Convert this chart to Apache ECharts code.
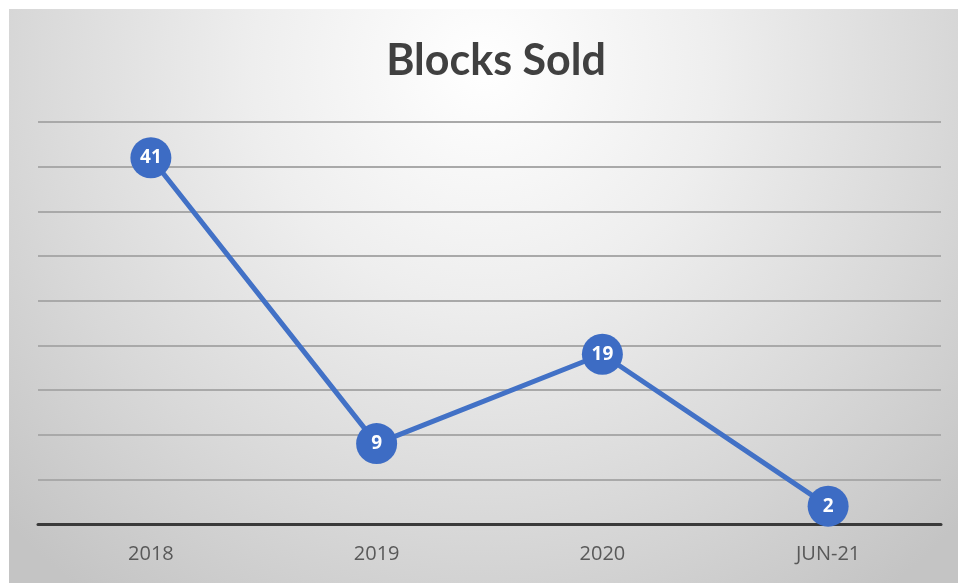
<!DOCTYPE html>
<html>
<head>
<meta charset="utf-8">
<script src="https://cdn.jsdelivr.net/npm/echarts@6/dist/echarts.min.js"></script>
<style>
html,body{margin:0;padding:0;background:#fff;}
#chart{width:958px;height:583px;}
</style>
</head>
<body>
<div id="chart"></div>
<script>
// Yearly block sales
const categories = ['2018', '2019', '2020', 'JUN-21'];
const blocksSold = [41, 9, 19, 2];
const yTicks = { min: 0, max: 45, interval: 5 };

const chart = echarts.init(document.getElementById('chart'));
chart.setOption({
  animation: false,
  graphic: [{
    type: 'rect',
    z: -10,
    shape: { x: 9, y: 9, width: 949, height: 574 },
    style: {
      fill: {
        type: 'radial', x: 0.5, y: 0.1, r: 1.15,
        colorStops: [
          { offset: 0, color: '#ffffff' },
          { offset: 0.35, color: '#eeeeee' },
          { offset: 0.7, color: '#d8d8d8' },
          { offset: 1, color: '#c4c4c4' }
        ]
      }
    }
  }],
  title: {
    text: 'Blocks Sold',
    left: 491, top: 35, textAlign: 'center',
    textStyle: { fontFamily: 'Lato', fontWeight: 'bold', fontSize: 43, color: '#404040' }
  },
  grid: { left: 38, right: 17, top: 122, bottom: 59 },
  xAxis: {
    type: 'category',
    data: categories,
    boundaryGap: true,
    axisLine: { lineStyle: { color: '#3a3a3a', width: 3 } },
    axisTick: { show: false },
    axisLabel: { color: '#595959', fontSize: 20, fontFamily: 'Open Sans', margin: 20 }
  },
  yAxis: {
    type: 'value',
    min: yTicks.min, max: yTicks.max, interval: yTicks.interval,
    axisLine: { show: false },
    axisTick: { show: false },
    axisLabel: { show: false },
    splitLine: { lineStyle: { color: '#a9a9a9', width: 2 } }
  },
  series: [{
    type: 'line',
    data: blocksSold,
    lineStyle: { color: '#4271c6', width: 5 },
    symbol: 'circle',
    symbolSize: 41,
    itemStyle: { color: '#3d6cc4' },
    label: {
      show: true, position: 'inside',
      color: '#ffffff', fontWeight: 'bold', fontSize: 19, fontFamily: 'Open Sans'
    }
  }]
});
</script>
</body>
</html>
